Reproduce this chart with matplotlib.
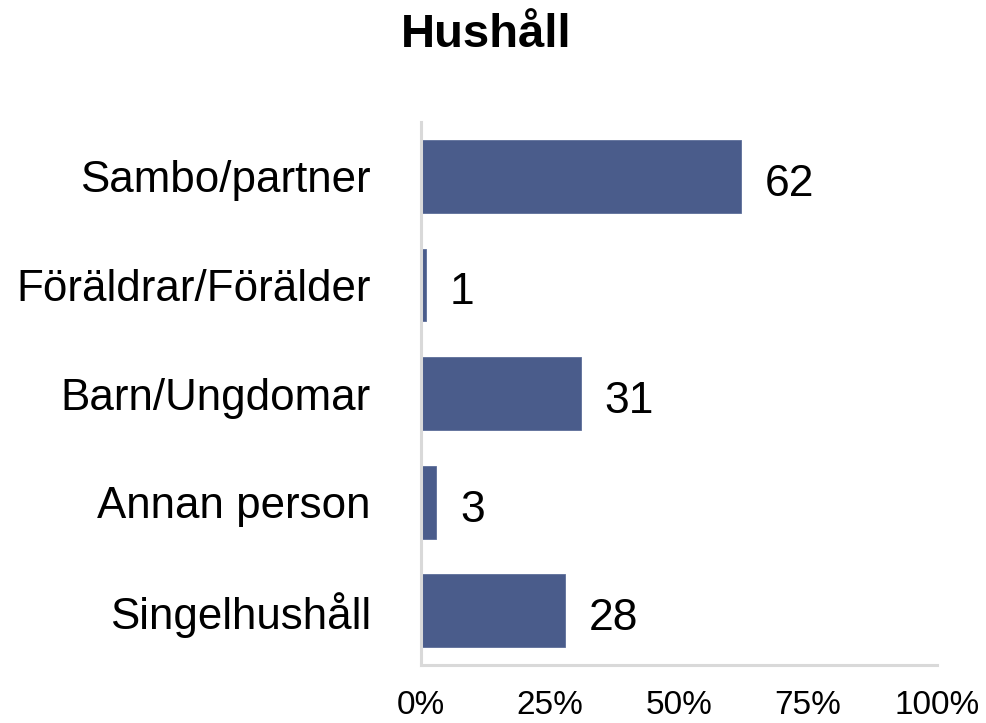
import matplotlib
matplotlib.use("Agg")
import matplotlib.pyplot as plt

categories = ["Sambo/partner", "Föräldrar/Förälder", "Barn/Ungdomar", "Annan person", "Singelhushåll"]
values = [62, 1, 31, 3, 28]
ticks = [0, 25, 50, 75, 100]
tick_labels = ["0%", "25%", "50%", "75%", "100%"]

plt.rcParams["font.family"] = ["Liberation Sans", "DejaVu Sans"]

fig = plt.figure(figsize=(9.87, 7.23), dpi=100)
ax = fig.add_axes([0.4265, 0.080, 0.5228, 0.751])

bars = ax.barh(range(len(categories)), values, height=0.67, color="#4A5C8B",
               edgecolor="#5D6E9A", linewidth=0.6)
for i, v in enumerate(values):
    ax.text(v + 4.6, i + 0.03, str(v), va="center_baseline", ha="left", fontsize=32)

ax.set_ylim(4.5, -0.5)
ax.set_xlim(0, 100)
ax.set_yticks(range(len(categories)))
ax.set_yticklabels(categories, fontsize=31.6)
ax.set_xticks(ticks)
ax.set_xticklabels(tick_labels, fontsize=24)
ax.tick_params(axis="y", length=0, pad=36)
ax.tick_params(axis="x", length=0, pad=18)
for lbl in ax.get_yticklabels():
    lbl.set_y(lbl.get_position()[1] + 0.03)

for s in ["top", "right"]:
    ax.spines[s].set_visible(False)
for s in ["left", "bottom"]:
    ax.spines[s].set_color("#D9D9D9")
    ax.spines[s].set_linewidth(2.2)

fig.suptitle("Hushåll", x=0.493, y=0.982, fontsize=34, fontweight="bold", va="top")

fig.savefig("out.png", dpi=100)
